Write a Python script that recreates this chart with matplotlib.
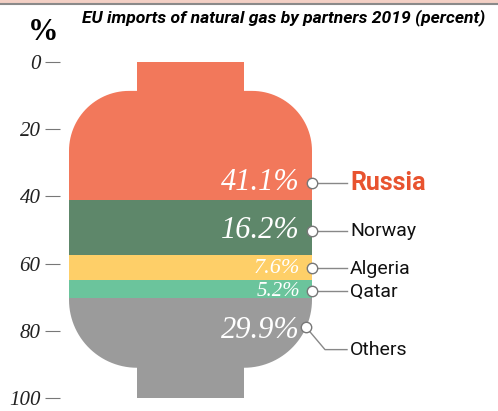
import numpy as np
import matplotlib
matplotlib.use("Agg")
import matplotlib.pyplot as plt
from matplotlib.path import Path
from matplotlib.patches import PathPatch, Rectangle
from matplotlib.lines import Line2D

# data
partners = ["Russia", "Norway", "Algeria", "Qatar", "Others"]
shares = [41.1, 16.2, 7.6, 5.2, 29.9]
colors = ["#F2785B", "#5E876A", "#FECF68", "#6BC49C", "#9B9B9B"]
yticks = [0, 20, 40, 60, 80, 100]

# where the labels sit (value units, y down)
label_y = [36.0, 50.2, 61.4, 68.2, 79.8]
name_y = [36.0, 50.2, 61.6, 68.4, 85.6]
pct_size = [22, 22, 16, 15, 22]

serif = ["Liberation Serif", "DejaVu Serif"]
sans = ["Roboto", "DejaVu Sans"]

fig = plt.figure(figsize=(4.98, 4.11), dpi=100)
W, H = 498, 411
ax = fig.add_axes([60 / W, (H - 398) / H, 438 / W, 336 / H])
ax.set_xlim(0, 438)
ax.set_ylim(100, 0)

# cylinder outline (x in pixels, y in percent; 3.36 px per percent)
k = 3.36
body_l, body_r = 9, 252
neck_l, neck_r = 77, 184
sh_top, sh_bot = 8.6, 91.0
rt, rb = 60, 68


def arc(cx, cy, rx, ry, a0, a1, n=30):
    t = np.radians(np.linspace(a0, a1, n))
    return list(zip(cx + rx * np.cos(t), cy - ry * np.sin(t)))


pts = [(neck_l, 0), (neck_r, 0), (neck_r, sh_top), (body_r - rt, sh_top)]
pts += arc(body_r - rt, sh_top + rt / k, rt, rt / k, 90, 0)
pts += arc(body_r - rb, sh_bot - rb / k, rb, rb / k, 0, -90)
pts += [(neck_r, sh_bot), (neck_r, 100), (neck_l, 100), (neck_l, sh_bot)]
pts += arc(body_l + rb, sh_bot - rb / k, rb, rb / k, -90, -180)
pts += arc(body_l + rt, sh_top + rt / k, rt, rt / k, 180, 90)
pts += [(neck_l, sh_top), (neck_l, 0)]
shape = PathPatch(Path(pts, closed=True), facecolor="none", edgecolor="none")
ax.add_patch(shape)

bottoms = np.concatenate([[0], np.cumsum(shares)[:-1]])
bars = ax.bar((body_l + body_r) / 2, shares, bottom=bottoms,
              width=body_r - body_l, color=colors, linewidth=0)
for b in bars:
    b.set_clip_path(shape)

# labels and leaders
for i, (name, v) in enumerate(zip(partners, shares)):
    ax.text(240, label_y[i], f"{v}%", color="white", style="italic",
            family=serif, fontsize=pct_size[i], ha="right", va="center")
    mx = 246 if name == "Others" else 252
    my = label_y[i] - (0.9 if name == "Others" else 0)
    if name == "Others":
        ax.plot([mx, 265, 287], [my, name_y[i], name_y[i]],
                color="#888888", lw=1, zorder=3)
    else:
        ax.plot([mx, 287], [my, my], color="#888888", lw=1, zorder=3)
    ax.plot(mx, my, "o", ms=7.5, mfc="white", mec="#777777", mew=1, zorder=4)
    if name == "Russia":
        ax.text(290, name_y[i], name, color="#E8532F", fontsize=18,
                weight="bold", family=sans, va="center", ha="left")
    else:
        ax.text(290, name_y[i], name, color="#111111", fontsize=14,
                family=sans, va="center", ha="left")

for s in ax.spines.values():
    s.set_visible(False)
ax.set_xticks([])
ax.set_yticks(yticks)
ax.tick_params(axis="y", length=11, width=0.8, color="#777777", pad=3)
for lab in ax.get_yticklabels():
    lab.set_family(serif)
    lab.set_style("italic")
    lab.set_fontsize(15)
    lab.set_color("#222222")

fig.text(43 / W, 1 - 33 / H, "%", family=serif, weight="bold", fontsize=22,
         ha="center", va="center")
fig.text(82 / W, 1 - 18 / H, "EU imports of natural gas by partners 2019 (percent)",
         family=sans, weight="bold", style="italic", fontsize=12.6,
         ha="left", va="center")

# top border
fig.add_artist(Rectangle((0, 1 - 3 / H), 1, 3 / H, transform=fig.transFigure,
                         color="#F3D0C5", lw=0))
fig.add_artist(Line2D([0, 1], [1 - 4.5 / H] * 2, transform=fig.transFigure,
                      color="#8A8A8A", lw=1.5))

fig.savefig("out.png", dpi=100)
